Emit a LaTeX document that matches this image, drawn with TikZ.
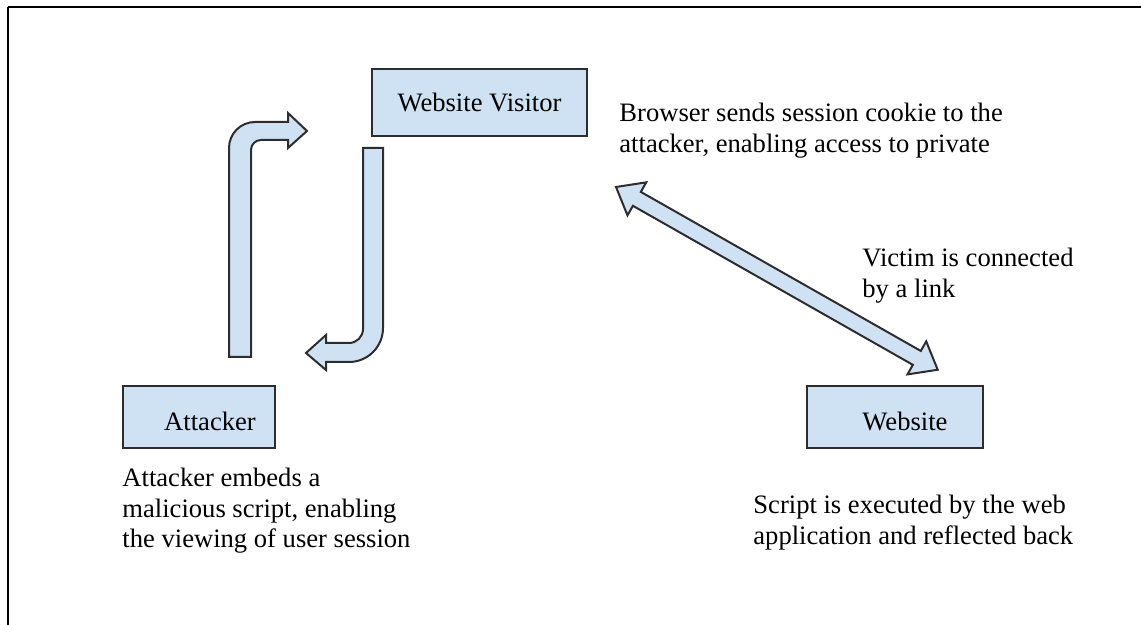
\documentclass[tikz,border=0pt]{standalone}
\usepackage{fontspec}
\setmainfont{Liberation Serif}
\definecolor{boxblue}{RGB}{207,226,243}
\definecolor{edgegray}{RGB}{45,45,45}

\begin{document}
\begin{tikzpicture}[x=0.5pt,y=-0.5pt,
	box/.style={draw=edgegray, line width=1pt, fill=boxblue, inner sep=0pt,
		font=\fontsize{13.3}{15.5}\selectfont},
	note/.style={anchor=base west, align=left, inner sep=0pt,
		font=\fontsize{13.3}{15.5}\selectfont},
	blockarrow/.style={draw=edgegray, line width=1pt, fill=boxblue, line join=miter}]

		\useasboundingbox (0,0) rectangle (1141,625);

		% frame
		\draw[line width=0.6pt] (8,7) -- (1141,7);
		\draw[line width=1pt] (8,7) -- (8,625);

		% boxes
		\node[box, minimum width=107.5pt, minimum height=33.5pt] (visitor) at (479.5,102.5) {Website Visitor};
		\node[box, minimum width=76pt, minimum height=31pt, text height=14pt] (attacker) at (199,417) {\hspace*{11pt}Attacker};
		\node[box, minimum width=88pt, minimum height=31pt, text height=14pt] (website) at (895,417) {\hspace*{10pt}Website};

		% texts (base = last line)
		\node[note] (cookie) at (619,153) {Browser sends session cookie to the\\attacker, enabling access to private};
		\node[note] (victim) at (862,298) {Victim is connected\\by a link};
		\node[note] (embed) at (122,548) {Attacker embeds a\\malicious script, enabling\\the viewing of user session};
		\node[note] (reflect) at (753,545) {Script is executed by the web\\application and reflected back};

		%% Arrows %%
		% attacker -> visitor
		\draw[blockarrow] (229,357) -- (229,148) arc[start angle=180, end angle=270, radius=26]
			-- (288,122) -- (288,113) -- (307,131) -- (288,148) -- (288,140) -- (261,140)
			arc[start angle=270, end angle=180, radius=10] -- (251,357) -- cycle;
		% visitor -> attacker
		\draw[blockarrow] (363,148) -- (383,148) -- (383,328) arc[start angle=0, end angle=90, radius=34]
			-- (326,362) -- (326,370) -- (306,353) -- (326,335) -- (326,343) -- (349,343)
			arc[start angle=90, end angle=0, radius=14] -- cycle;
		% visitor <-> website
		\coordinate (linkTop) at (616,187);
		\begin{scope}[shift={(linkTop)}, rotate=-29.6]
			\draw[blockarrow] (0,0) -- (24,-19) -- (24,-8) -- (346,-8) -- (346,-19) -- (370,0)
				-- (346,19) -- (346,8) -- (24,8) -- (24,19) -- cycle;
		\end{scope}

	\end{tikzpicture}
\end{document}
